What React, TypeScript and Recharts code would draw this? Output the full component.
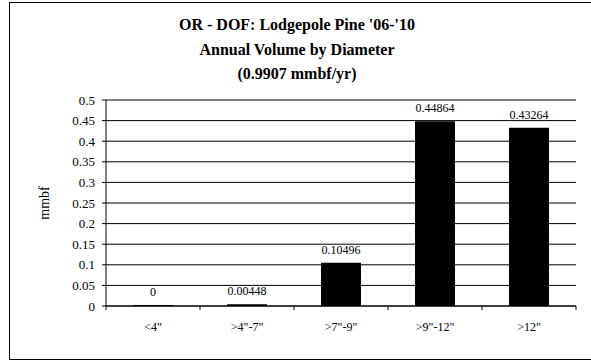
import React from 'react';
import { BarChart, Bar, XAxis, YAxis, CartesianGrid, LabelList } from 'recharts';

const categories = ['<4"', '>4"-7"', '>7"-9"', '>9"-12"', '>12"'];
const volumes = [0, 0.00448, 0.10496, 0.44864, 0.43264];
const yTicks = [0, 0.05, 0.1, 0.15, 0.2, 0.25, 0.3, 0.35, 0.4, 0.45, 0.5];
const titleLines = ["OR - DOF: Lodgepole Pine '06-'10", 'Annual Volume by Diameter', '(0.9907 mmbf/yr)'];

const data = categories.map((c, i) => ({ cat: c, value: volumes[i] }));

const font = '"Liberation Serif", "Times New Roman", serif';

// category label plus Excel-style tick marks on the category boundaries
const CatTick = (props: any) => {
  const { x, y, payload, index, visibleTicksCount } = props;
  const half = payload.offset || 0;
  const axisY = y - 8;
  return (
    <g>
      <line x1={x - half} y1={axisY} x2={x - half} y2={axisY + 4} stroke="#000" />
      {index === visibleTicksCount - 1 && (
        <line x1={x + half} y1={axisY} x2={x + half} y2={axisY + 4} stroke="#000" />
      )}
      <text x={x} y={y + 8} dy="0.71em" textAnchor="middle" fill="#000" fontSize={12} fontFamily={font}>
        {payload.value}
      </text>
    </g>
  );
};

const App = () => {
  return (
    <div style={{ position: 'absolute', left: 0, top: 0, width: 591, height: 360, background: '#fff', fontFamily: font, overflow: 'hidden' }}>
      <div
        style={{
          position: 'absolute',
          left: 9,
          top: 2,
          width: 600,
          height: 358,
          border: '1px solid #000',
          boxSizing: 'border-box',
        }}
      />
      <div
        style={{
          position: 'absolute',
          left: 0,
          top: 13,
          width: 594,
          textAlign: 'center',
          fontWeight: 'bold',
          fontSize: 16,
          lineHeight: '24.5px',
          color: '#000',
        }}
      >
        {titleLines.map((t) => (
          <div key={t}>{t}</div>
        ))}
      </div>
      <BarChart
        width={591}
        height={360}
        data={data}
        margin={{ top: 100, right: 15, left: 0, bottom: 0 }}
        barSize={40}
        style={{ position: 'absolute', left: 0, top: 0 }}
      >
        <CartesianGrid xAxisId="cat" yAxisId="left" vertical={false} stroke="#000" strokeOpacity={1} />
        <XAxis
          xAxisId="cat"
          dataKey="cat"
          tickLine={false}
          tickSize={0}
          tickMargin={8}
          axisLine={{ stroke: '#000' }}
          tick={<CatTick />}
          interval={0}
          height={54}
        />
        <YAxis
          yAxisId="left"
          domain={[0, 0.5]}
          ticks={yTicks}
          interval={0}
          width={106}
          tickSize={4}
          tickMargin={7}
          tickLine={{ stroke: '#000' }}
          axisLine={{ stroke: '#000' }}
          tick={{ fill: '#000', fontSize: 13, fontFamily: font }}
          tickFormatter={(v: number) => String(v)}
          label={{
            value: 'mmbf',
            angle: -90,
            position: 'insideLeft',
            offset: 44,
            style: { fill: '#000', fontSize: 14, fontFamily: font, textAnchor: 'middle' },
          }}
        />
        <YAxis
          yAxisId="right"
          orientation="right"
          domain={[0, 0.5]}
          width={0}
          tick={false}
          tickLine={false}
          axisLine={{ stroke: '#000' }}
        />
        <Bar
          xAxisId="cat"
          yAxisId="left"
          dataKey="value"
          fill="#000"
          minPointSize={(v: number) => (v === 0 ? 1 : 0)}
          isAnimationActive={false}
        >
          <LabelList
            dataKey="value"
            position="top"
            offset={9}
            style={{ fill: '#000', fontSize: 12, fontFamily: font }}
          />
        </Bar>
      </BarChart>
    </div>
  );
};

export default App;
